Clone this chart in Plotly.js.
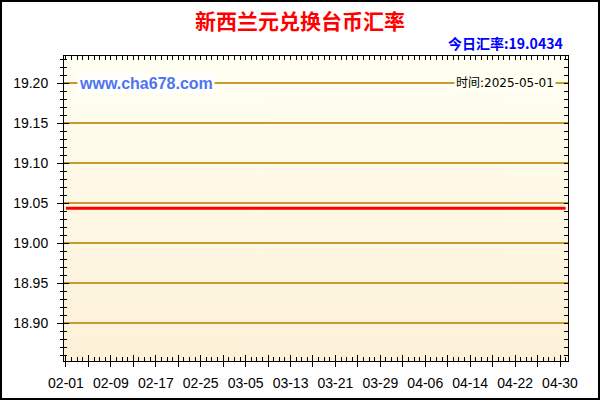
<!DOCTYPE html>
<html>
<head>
<meta charset="utf-8">
<script src="https://cdn.plot.ly/plotly-3.0.1.min.js"></script>
<style>
  html, body { margin: 0; padding: 0; background: #fff; }
  #chart { width: 596px; height: 396px; border: 2px solid #000; }
</style>
</head>
<body>
<div id="chart"></div>
<script>
// NZD -> TWD, flat over the period
const dates = ['2025-02-01', '2025-02-09', '2025-02-17', '2025-02-25', '2025-03-05', '2025-03-13',
               '2025-03-21', '2025-03-29', '2025-04-06', '2025-04-14', '2025-04-22', '2025-04-30', '2025-05-01'];
const rates = [19.0434, 19.0434, 19.0434, 19.0434, 19.0434, 19.0434,
               19.0434, 19.0434, 19.0434, 19.0434, 19.0434, 19.0434, 19.0434];
const titleText = '新西兰元兑换台币汇率';
const todayRate = '19.0434';
const updateDate = '2025-05-01';
const siteText = 'www.cha678.com';

const DAY = 86400000;
const xRange = ['2025-01-31 15:30', '2025-05-01 10:12'];
const yRange = [18.8525, 19.23375]; // 0.05 -> 40px
const tickFont = { family: 'Liberation Sans, Arial, sans-serif', size: 14, color: '#000' };

// gradient for the plot area
function gradientImage() {
    const c = document.createElement('canvas');
    c.width = 4; c.height = 200;
    const ctx = c.getContext('2d');
    const g = ctx.createLinearGradient(0, 0, 0, 200);
    g.addColorStop(0, '#fffff2');
    g.addColorStop(1, '#fdf1d8');
    ctx.fillStyle = g;
    ctx.fillRect(0, 0, 4, 200);
    return c.toDataURL();
}

const main = {
    x: dates, y: rates,
    type: 'scatter', mode: 'lines',
    line: { color: '#ff0000', width: 3 },
    hoverinfo: 'x+y', showlegend: false
};

// invisible helpers so the extra tick axes get drawn
function helper(xa, ya) {
    return {
        x: [dates[0]], y: [rates[0]], xaxis: xa, yaxis: ya,
        type: 'scatter', mode: 'markers', marker: { opacity: 0 },
        hoverinfo: 'skip', showlegend: false
    };
}

const baseX = {
    type: 'date', range: xRange, autorange: false, showgrid: false, zeroline: false,
    tickcolor: '#000', fixedrange: true
};
const baseY = {
    range: yRange, autorange: false, showgrid: false, zeroline: false,
    tickcolor: '#000', fixedrange: true
};

const layout = {
    width: 596, height: 396,
    margin: { l: 62, r: 30, t: 54, b: 37 },
    paper_bgcolor: '#fff',
    plot_bgcolor: 'rgba(0,0,0,0)',
    showlegend: false,
    title: {
        text: titleText,
        font: { family: 'Noto Sans CJK SC', size: 21, color: '#ff0000', weight: 'bold' },
        x: 0.5, xref: 'container', xanchor: 'center',
        y: 1 - 20 / 396, yref: 'container', yanchor: 'middle'
    },
    xaxis: Object.assign({}, baseX, {
        tick0: '2025-02-01', dtick: 8 * DAY, tickformat: '%m-%d',
        ticks: 'outside', ticklen: 5, tickwidth: 1,
        showline: true, linecolor: '#000', linewidth: 1,
        tickfont: tickFont, ticklabelstandoff: 4,
        minor: { tick0: '2025-02-01', dtick: DAY, ticks: 'inside', ticklen: 4, tickcolor: '#000', showgrid: false }
    }),
    xaxis2: Object.assign({}, baseX, {
        overlaying: 'x', side: 'bottom', anchor: 'y',
        tick0: '2025-02-01', dtick: 4 * DAY, ticks: 'outside', ticklen: 5,
        showticklabels: false
    }),
    xaxis3: Object.assign({}, baseX, {
        overlaying: 'x', side: 'bottom', anchor: 'y',
        tick0: '2025-02-01', dtick: 4 * DAY, ticks: 'inside', ticklen: 6,
        showticklabels: false
    }),
    xaxis4: Object.assign({}, baseX, {
        overlaying: 'x', side: 'top', anchor: 'y',
        tick0: '2025-02-01', dtick: DAY, ticks: 'inside', ticklen: 4,
        showline: true, linecolor: '#000', linewidth: 1,
        showticklabels: false
    }),
    yaxis: Object.assign({}, baseY, {
        tick0: 18.9, dtick: 0.05, tickformat: '.2f',
        ticks: 'outside', ticklen: 6, tickwidth: 1,
        showgrid: true, gridcolor: '#c99a2e', gridwidth: 1.2,
        showline: true, linecolor: '#000', linewidth: 1,
        tickfont: tickFont, ticklabelstandoff: 6,
        minor: { tick0: 18.9, dtick: 0.01, ticks: 'outside', ticklen: 3, tickcolor: '#000', showgrid: false }
    }),
    yaxis2: Object.assign({}, baseY, {
        overlaying: 'y', side: 'left', anchor: 'x',
        tick0: 18.9, dtick: 0.05, ticks: 'inside', ticklen: 5,
        showticklabels: false,
        minor: { tick0: 18.9, dtick: 0.01, ticks: 'inside', ticklen: 3, tickcolor: '#000', showgrid: false }
    }),
    yaxis3: Object.assign({}, baseY, {
        overlaying: 'y', side: 'right', anchor: 'x',
        tick0: 18.9, dtick: 0.01, ticks: 'inside', ticklen: 4,
        showline: true, linecolor: '#000', linewidth: 1,
        showticklabels: false
    }),
    images: [{
        source: gradientImage(),
        xref: 'paper', yref: 'paper', x: 0, y: 1, sizex: 1, sizey: 1,
        xanchor: 'left', yanchor: 'top', sizing: 'stretch', layer: 'below'
    }],
    annotations: [
        {
            text: '今日汇率:' + todayRate,
            xref: 'paper', yref: 'paper', x: 0.994, y: (359 - 41) / 305,
            xanchor: 'right', yanchor: 'middle', showarrow: false,
            font: { family: 'Noto Sans CJK SC', size: 14, color: '#0000ff', weight: 'bold' }
        },
        {
            text: siteText,
            xref: 'paper', yref: 'y', x: 0.026, y: 19.20,
            xanchor: 'left', yanchor: 'middle', showarrow: false,
            bgcolor: '#ffffff', borderpad: 1,
            font: { family: 'Liberation Sans, Arial, sans-serif', size: 16, color: '#4f74f0', weight: 'bold' }
        },
        {
            text: '时间:' + updateDate,
            xref: 'paper', yref: 'y', x: 0.976, y: 19.20,
            xanchor: 'right', yanchor: 'middle', showarrow: false,
            bgcolor: '#fffff2', borderpad: 1,
            font: { family: 'DejaVu Sans, Noto Sans CJK SC', size: 12, color: '#000' }
        }
    ]
};

const data = [main, helper('x2', 'y'), helper('x3', 'y'), helper('x4', 'y'), helper('x', 'y2'), helper('x', 'y3')];

Plotly.newPlot('chart', data, layout, { displayModeBar: false, staticPlot: true });
</script>
</body>
</html>
